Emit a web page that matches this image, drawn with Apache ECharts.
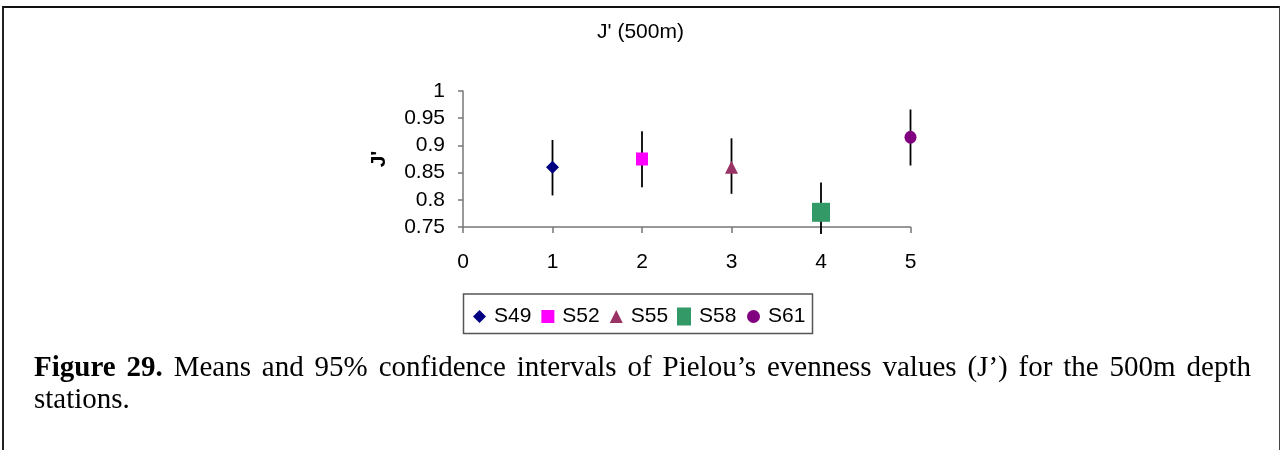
<!DOCTYPE html>
<html>
<head>
<meta charset="utf-8">
<script src="https://cdn.jsdelivr.net/npm/echarts@6/dist/echarts.min.js"></script>
<style>
  html, body { margin: 0; padding: 0; background: #fff; }
  #wrap { position: relative; width: 1281px; height: 450px; overflow: hidden; }
  #frame { position: absolute; left: 2px; top: 6px; width: 1275px; height: 470px;
           border-top: 2px solid #111; border-left: 2px solid #222; border-right: 1px solid #444; }
  #chart { position: absolute; left: 0; top: 0; width: 1281px; height: 450px; }
  #caption { position: absolute; left: 34px; top: 350px; width: 1217px;
             font-family: 'Liberation Serif', 'Times New Roman', serif; font-size: 29px; line-height: 32px; color: #000; }
  #caption .l1 { text-align: justify; text-align-last: justify; white-space: nowrap; }
</style>
</head>
<body>
<div id="wrap">
  <div id="frame"></div>
  <div id="chart"></div>
  <div id="caption">
    <div class="l1"><b>Figure 29.</b> Means and 95% confidence intervals of Pielou’s evenness values (J’) for the 500m depth</div>
    <div>stations.</div>
  </div>
</div>
<script>
const titleText = "J' (500m)";
const yName = "J'";
const stations = ['S49', 'S52', 'S55', 'S58', 'S61'];
const xPos = [1, 2, 3, 4, 5];
const means = [0.860, 0.875, 0.860, 0.777, 0.915];
const upper = [0.910, 0.926, 0.913, 0.832, 0.966];
const lower = [0.808, 0.823, 0.811, 0.737, 0.863];
const colors = ['#000080', '#FF00FF', '#993366', '#339966', '#800080'];
const symbols = ['diamond', 'rect', 'triangle', 'rect', 'circle'];
const symbolSizes = [[13, 13], [12, 13], [13, 13], [18, 19], [12, 13]];

const FONT = "'Liberation Sans', Arial, sans-serif";
const FS = 21;
const chart = echarts.init(document.getElementById('chart'), null, { renderer: 'canvas' });

const scatterSeries = stations.map((name, i) => ({
  name: name,
  type: 'scatter',
  data: [[xPos[i], means[i]]],
  symbol: symbols[i],
  symbolSize: symbolSizes[i],
  itemStyle: { color: colors[i], opacity: 1 },
  z: 3,
  emphasis: { disabled: true },
  silent: true
}));

const errorSeries = {
  name: 'ci',
  type: 'custom',
  data: xPos.map((x, i) => [x, lower[i], upper[i]]),
  renderItem: function (params, api) {
    const p1 = api.coord([api.value(0), api.value(1)]);
    const p2 = api.coord([api.value(0), api.value(2)]);
    return { type: 'line', shape: { x1: p1[0], y1: p1[1], x2: p2[0], y2: p2[1] },
             style: { stroke: '#000', lineWidth: 1.8 } };
  },
  z: 2,
  silent: true
};

const legendBase = {
  orient: 'horizontal',
  top: 301,
  itemGap: 10,
  selectedMode: false,
  textStyle: { fontFamily: FONT, fontSize: FS, color: '#000', padding: [0, 0, 0, 3] }
};

chart.setOption({
  animation: false,
  backgroundColor: 'transparent',
  title: {
    text: titleText,
    left: 'center',
    top: 17,
    textStyle: { fontFamily: FONT, fontSize: FS, fontWeight: 'normal', color: '#000' }
  },
  legend: [
    Object.assign({}, legendBase, {
      left: 468, itemWidth: 13, itemHeight: 13,
      data: [
        { name: 'S49', icon: 'diamond' },
        { name: 'S52', icon: 'rect' },
        { name: 'S55', icon: 'triangle' }
      ]
    }),
    Object.assign({}, legendBase, {
      left: 672, itemWidth: 14, itemHeight: 18,
      data: [{ name: 'S58', icon: 'rect' }]
    }),
    Object.assign({}, legendBase, {
      left: 742, itemWidth: 13, itemHeight: 13,
      data: [{ name: 'S61', icon: 'circle' }]
    })
  ],
  graphic: [{
    type: 'rect', left: 461, top: 291.5, silent: true,
    shape: { width: 349, height: 39.5 },
    style: { fill: 'none', stroke: '#555', lineWidth: 1.5 }
  }],
  grid: { left: 463, top: 91, width: 447.5, height: 136, containLabel: false },
  xAxis: {
    type: 'value', min: 0, max: 5, interval: 1,
    axisLine: { show: true, onZero: false, lineStyle: { color: '#777', width: 1.5 } },
    axisTick: { show: true, inside: false, length: 6, lineStyle: { color: '#777', width: 1.5 } },
    axisLabel: { fontFamily: FONT, fontSize: FS, color: '#000', margin: 25 },
    splitLine: { show: false }
  },
  yAxis: {
    type: 'value', min: 0.75, max: 1, interval: 0.05,
    name: yName, nameLocation: 'middle', nameGap: 73, nameRotate: 90,
    nameTextStyle: { fontFamily: FONT, fontSize: FS, fontWeight: 'bold', color: '#000' },
    axisLine: { show: true, lineStyle: { color: '#777', width: 1.5 } },
    axisTick: { show: true, inside: false, length: 5, lineStyle: { color: '#777', width: 1.5 } },
    axisLabel: { fontFamily: FONT, fontSize: FS, color: '#000', margin: 18 },
    splitLine: { show: false }
  },
  series: [errorSeries].concat(scatterSeries)
});
</script>
</body>
</html>
